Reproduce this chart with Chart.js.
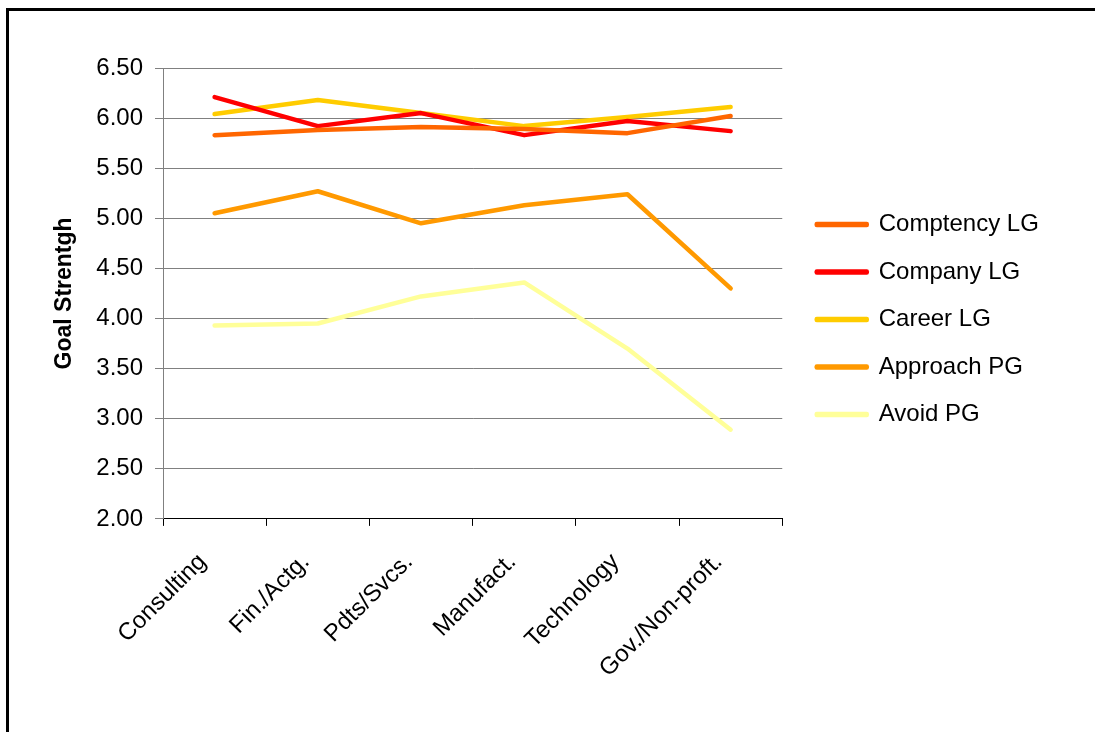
<!DOCTYPE html>
<html>
<head>
<meta charset="utf-8">
<title>Goal Strentgh</title>
<script src="https://cdn.jsdelivr.net/npm/chart.js@4/dist/chart.umd.min.js"></script>
<style>
  html, body { margin:0; padding:0; background:#fff; }
  body { width:1095px; height:732px; overflow:hidden; position:relative; }
  /* cadre du graphique (bord gauche + haut) */
  .frame { position:absolute; left:6px; top:8px; width:1200px; height:900px;
           border-left:3px solid #000; border-top:3px solid #000; }
  .wrap { position:absolute; left:0; top:0; width:1095px; height:732px; }
</style>
</head>
<body>
<div class="frame"></div>
<div class="wrap"><canvas id="chart"></canvas></div>
<script>
/* ---------- données ---------- */
const categories = ["Consulting","Fin./Actg.","Pdts/Svcs.","Manufact.","Technology","Gov./Non-proft."];
const competencyLG = [5.83, 5.88, 5.91, 5.89, 5.85, 6.02];
const companyLG    = [6.21, 5.92, 6.05, 5.83, 5.97, 5.87];
const careerLG     = [6.04, 6.18, 6.05, 5.92, 6.01, 6.11];
const approachPG   = [5.05, 5.27, 4.95, 5.13, 5.24, 4.30];
const avoidPG      = [3.93, 3.95, 4.22, 4.36, 3.70, 2.89];
const yTicks       = { min: 2.0, max: 6.5, step: 0.5 };
const yTitle       = "Goal Strentgh";

const FONT = "'Liberation Sans', Arial, sans-serif";

function line(label, data, color){
  return {
    label, data,
    borderColor: color, backgroundColor: color,
    borderWidth: 4.5, pointRadius: 0, pointHoverRadius: 0,
    tension: 0, fill: false,
    borderCapStyle: "round", borderJoinStyle: "round"
  };
}

// décale la légende (pas d'option native pour ça)
const legendShift = {
  id: "legendShift",
  afterLayout(chart){
    const lg = chart.legend;
    if(!lg) return;
    lg.left += 11; lg.right += 11;
    lg.top += 26;  lg.bottom += 26;
  }
};

const ctx = document.getElementById("chart").getContext("2d");
new Chart(ctx, {
  type: "line",
  data: {
    labels: categories,
    datasets: [
      line("Comptency LG", competencyLG, "#FF6600"),
      line("Company LG",   companyLG,    "#FF0000"),
      line("Career LG",    careerLG,     "#FFCC00"),
      line("Approach PG",  approachPG,   "#FF9900"),
      line("Avoid PG",     avoidPG,      "#FFFF99")
    ]
  },
  options: {
    responsive: true,
    maintainAspectRatio: false,
    animation: false,
    layout: { padding: { left: 30, top: 68, right: 62, bottom: 27 } },
    plugins: {
      tooltip: { enabled: false },
      legend: {
        position: "right",
        fullSize: false,
        labels: {
          color: "#000",
          font: { family: FONT, size: 24 },
          boxWidth: 50, boxHeight: 1,
          padding: 23.5
        }
      }
    },
    scales: {
      x: {
        z: 1,
        offset: true,
        grid: { drawOnChartArea: false, drawTicks: true, tickLength: 7, offset: true, color: "#000" },
        border: { color: "#000", width: 1 },
        ticks: {
          color: "#000", font: { family: FONT, size: 24 },
          minRotation: 45, maxRotation: 45, padding: 22, labelOffset: -12, autoSkip: false
        }
      },
      y: {
        min: yTicks.min, max: yTicks.max,
        grid: { color: "#808080", tickLength: 8, lineWidth: 1 },
        border: { color: "#808080", width: 1 },
        ticks: {
          stepSize: yTicks.step, color: "#000", padding: 12,
          font: { family: FONT, size: 24 },
          callback: v => Number(v).toFixed(2)
        },
        title: {
          display: true, text: yTitle, color: "#000",
          font: { family: FONT, size: 23, weight: "bold", lineHeight: 1.2 },
          padding: { top: 21, bottom: 0 }
        },
        afterFit(scale){ scale.width = 133; }
      }
    }
  },
  plugins: [legendShift]
});
</script>
</body>
</html>
